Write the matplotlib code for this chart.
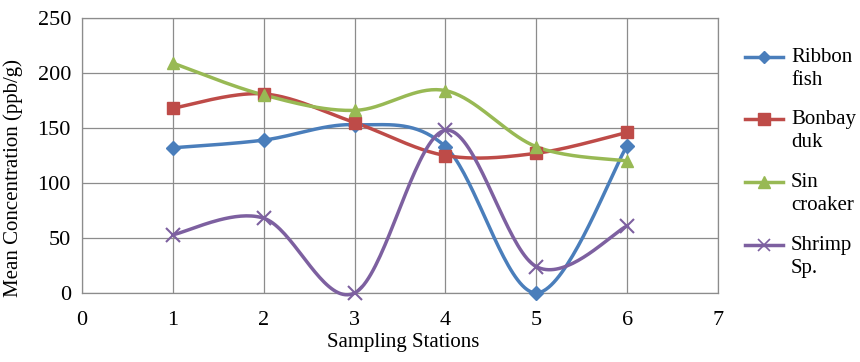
import numpy as np
import matplotlib
matplotlib.use("Agg")
import matplotlib.pyplot as plt
from matplotlib.lines import Line2D

stations = [1, 2, 3, 4, 5, 6]
ribbon_fish = [132, 139, 153, 133, 0, 134]
bombay_duck = [168, 181, 155, 125, 127, 146]
sin_croaker = [209, 180, 166, 184, 133, 120]
shrimp_sp = [53, 68, 0, 148, 24, 61]
labels = ["Ribbon\nfish", "Bonbay\nduk", "Sin\ncroaker", "Shrimp\nSp."]
colors = ["#4A7EBB", "#BE4B48", "#98B954", "#7D60A0"]
markers = ["D", "s", "^", "x"]
msizes = [7, 9, 9, 10]

plt.rcParams['font.family'] = ['Liberation Serif', 'DejaVu Serif']


def smooth(x, y, n=40):
    x = np.asarray(x, float)
    y = np.asarray(y, float)
    xs, ys = [], []
    m = len(x)
    for i in range(m - 1):
        p0 = np.array([x[max(i - 1, 0)], y[max(i - 1, 0)]])
        p1 = np.array([x[i], y[i]])
        p2 = np.array([x[i + 1], y[i + 1]])
        p3 = np.array([x[min(i + 2, m - 1)], y[min(i + 2, m - 1)]])
        c1 = p1 + (p2 - p0) / 6.0
        c2 = p2 - (p3 - p1) / 6.0
        t = np.linspace(0, 1, n)[:, None]
        b = ((1 - t) ** 3) * p1 + 3 * ((1 - t) ** 2) * t * c1 + 3 * (1 - t) * t ** 2 * c2 + t ** 3 * p2
        xs.extend(b[:, 0])
        ys.extend(b[:, 1])
    return xs, ys


fig = plt.figure(figsize=(8.6, 3.62), dpi=100)
ax = fig.add_axes([82 / 860, 1 - 293 / 362, (718 - 82) / 860, (293 - 18) / 362])

series = [ribbon_fish, bombay_duck, sin_croaker, shrimp_sp]
for vals, c, mk, ms in zip(series, colors, markers, msizes):
    sx, sy = smooth(stations, vals)
    ax.plot(sx, sy, color=c, lw=2.5, zorder=3, clip_on=False)
    ax.plot(stations, vals, linestyle='none', marker=mk, color=c, ms=ms,
            mew=1.5 if mk == 'x' else 1, zorder=4, clip_on=False)

ax.set_xlim(0, 7)
ax.set_ylim(0, 250)
ax.set_xticks(range(0, 8))
ax.set_yticks(range(0, 251, 50))
ax.grid(True, color='#8c8c8c', lw=0.9)
ax.set_axisbelow(True)
for s in ax.spines.values():
    s.set_color('#8c8c8c')
    s.set_linewidth(0.9)
ax.tick_params(axis='both', labelsize=16, length=0, colors='#8c8c8c', labelcolor='black')
ax.tick_params(axis='x', pad=13)
ax.tick_params(axis='y', pad=8)
ax.set_xlabel("Sampling Stations", fontsize=15)
ax.set_ylabel("Mean Concentration (ppb/g)", fontsize=15)
ax.xaxis.set_label_coords((403 - 82) / (718 - 82), -(343 - 293) / 275, transform=ax.transAxes)
ax.xaxis.label.set_va('center')
ax.yaxis.set_label_coords(-(82 - 13) / (718 - 82), (293 - 178) / 275, transform=ax.transAxes)
ax.yaxis.label.set_va('center')

# legend drawn manually to align handle with first line of each label
leg_y = [57, 119, 182, 245]
for lab, c, mk, ms, yy in zip(labels, colors, markers, msizes, leg_y):
    yf = 1 - yy / 362
    fig.add_artist(Line2D([745 / 860, 783 / 860], [yf, yf], color=c, lw=2.5,
                          transform=fig.transFigure))
    fig.add_artist(Line2D([764 / 860], [yf], color=c, marker=mk, ms=ms * 0.9,
                          mew=1.2 if mk == 'x' else 1, transform=fig.transFigure))
    fig.text(791 / 860, 1 - (yy - 9) / 362, lab, fontsize=15, va='top', ha='left',
             linespacing=1.3, transform=fig.transFigure)

fig.savefig("out.png", dpi=100)
